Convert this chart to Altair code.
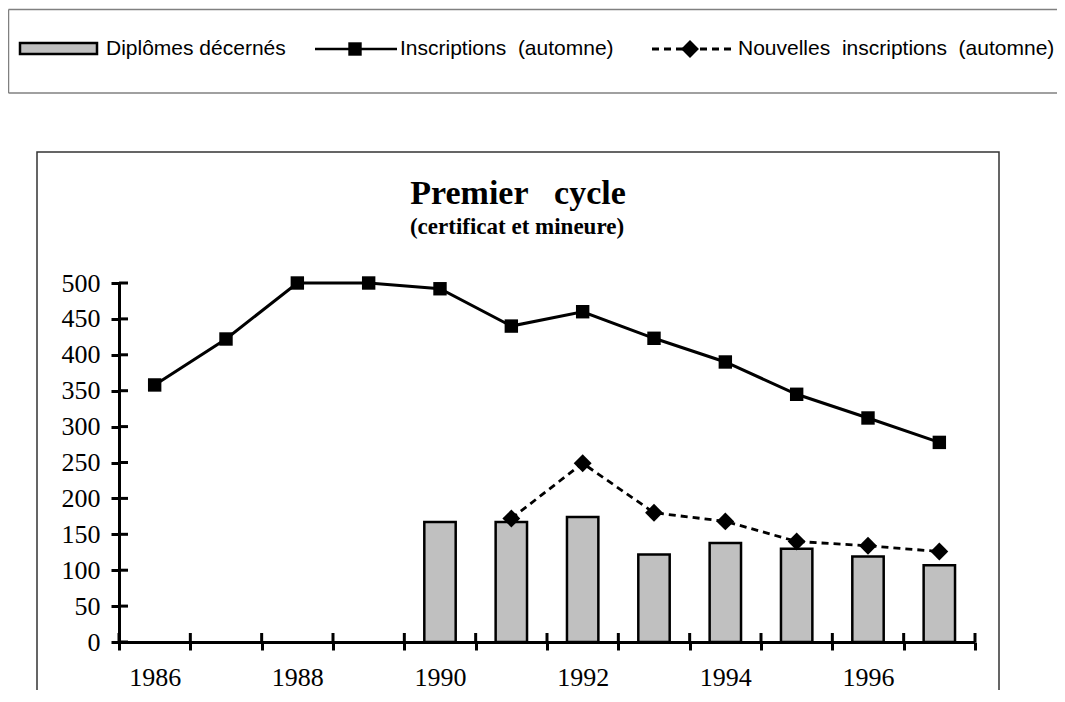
import altair as alt
import pandas as pd

# ---- data ----
years = [str(y) for y in range(1986, 1998)]
inscriptions = [358, 422, 500, 500, 492, 440, 460, 423, 390, 345, 312, 278]
nouvelles = [None, None, None, None, None, 172, 249, 180, 168, 140, 134, 126]
diplomes = [None, None, None, None, 167, 167, 174, 122, 138, 130, 119, 107]
y_ticks = [0, 50, 100, 150, 200, 250, 300, 350, 400, 450, 500]
legend_labels = [
    "Diplômes décernés",
    "Inscriptions\u00a0\u00a0(automne)",
    "Nouvelles\u00a0\u00a0inscriptions\u00a0\u00a0(automne)",
]
title_text = "Premier\u00a0\u00a0\u00a0cycle"
subtitle_text = "(certificat et mineure)"

df = pd.DataFrame({"year": years, "inscriptions": inscriptions,
                   "nouvelles": nouvelles, "diplomes": diplomes})
ticks_df = pd.DataFrame({"v": y_ticks})
last_df = pd.DataFrame({"year": [years[-1]]})

W, H = 856, 359
SERIF = "Liberation Serif"
SANS = "Liberation Sans"

x_scale = alt.Scale(domain=years, paddingInner=0, paddingOuter=0)
y_scale = alt.Scale(domain=[0, 500], nice=False, zero=True)
x_axis = alt.Axis(title=None, labelAngle=0, tickBand="extent", tickSize=8, tickWidth=3,
                  tickColor="black", domainWidth=3, domainColor="black",
                  labelExpr="toNumber(datum.value) % 2 == 0 ? datum.value : ''",
                  labelFont=SERIF, labelFontSize=26, labelColor="black",
                  labelPadding=14, labelOverlap=False, grid=False)
y_axis = alt.Axis(title=None, values=y_ticks, tickSize=8, tickWidth=3, tickColor="black",
                  domainWidth=3, domainColor="black", labelFont=SERIF, labelFontSize=26,
                  labelColor="black", labelPadding=11, grid=False)

X = alt.X("year:O", scale=x_scale, axis=x_axis)

bars = alt.Chart(df).transform_filter("isValid(datum.diplomes)").mark_bar(
    fill="#c0c0c0", stroke="black", strokeWidth=2.5, width={"band": 0.44}
).encode(x=X, y=alt.Y("diplomes:Q", scale=y_scale, axis=y_axis))

line_ins = alt.Chart(df).mark_line(color="black", strokeWidth=3).encode(
    x=X, y=alt.Y("inscriptions:Q", scale=y_scale, axis=y_axis))
pts_ins = alt.Chart(df).mark_point(shape="square", filled=True, size=180, color="black",
                                   opacity=1).encode(
    x=X, y=alt.Y("inscriptions:Q", scale=y_scale, axis=y_axis))

nv = alt.Chart(df).transform_filter("isValid(datum.nouvelles)")
line_nv = nv.mark_line(color="black", strokeWidth=2.8, strokeDash=[7, 5]).encode(
    x=X, y=alt.Y("nouvelles:Q", scale=y_scale, axis=y_axis))
pts_nv = nv.mark_point(shape="diamond", filled=True, size=320, color="black",
                       opacity=1).encode(
    x=X, y=alt.Y("nouvelles:Q", scale=y_scale, axis=y_axis))

# inner halves of the crossing ticks
ytick_in = alt.Chart(ticks_df).mark_rule(color="black", strokeWidth=3).encode(
    y=alt.Y("v:Q", scale=y_scale, axis=y_axis), x=alt.value(0), x2=alt.value(9))
xtick_in = alt.Chart(df).mark_rule(color="black", strokeWidth=3).encode(
    x=alt.X("year:O", scale=x_scale, axis=x_axis, bandPosition=0),
    y=alt.value(H - 9), y2=alt.value(H))
xtick_end = alt.Chart(last_df).mark_rule(color="black", strokeWidth=3).encode(
    x=alt.X("year:O", scale=x_scale, axis=x_axis, bandPosition=1),
    y=alt.value(H - 9), y2=alt.value(H))

one = alt.Data(values=[{"k": 0}])

frame = alt.Chart(one).mark_rect(fill="transparent", stroke="#333333", strokeWidth=1.5).encode(
    x=alt.value(-82), x2=alt.value(880), y=alt.value(-131), y2=alt.value(430))

LB_STYLE = dict(color="#808080", strokeWidth=1.5)
lb_top = alt.Chart(one).mark_rule(**LB_STYLE).encode(
    x=alt.value(-110.5), x2=alt.value(1000), y=alt.value(-273.5))
lb_bot = alt.Chart(one).mark_rule(**LB_STYLE).encode(
    x=alt.value(-110.5), x2=alt.value(1000), y=alt.value(-190))
lb_left = alt.Chart(one).mark_rule(**LB_STYLE).encode(
    x=alt.value(-110.5), y=alt.value(-273.5), y2=alt.value(-190))

title = alt.Chart(one).mark_text(font=SERIF, fontSize=34, fontWeight="bold", align="center",
                                 baseline="alphabetic", color="black").encode(
    x=alt.value(399), y=alt.value(-79), text=alt.value(title_text))
subtitle = alt.Chart(one).mark_text(font=SERIF, fontSize=23, fontWeight="bold", align="center",
                                    baseline="alphabetic", color="black").encode(
    x=alt.value(398), y=alt.value(-49), text=alt.value(subtitle_text))

LY = -234
leg_bar = alt.Chart(one).mark_rect(fill="#c0c0c0", stroke="black", strokeWidth=2.5).encode(
    x=alt.value(-99), x2=alt.value(-22), y=alt.value(LY - 6), y2=alt.value(LY + 5))
leg_line1 = alt.Chart(one).mark_rule(color="black", strokeWidth=2.5).encode(
    x=alt.value(196), x2=alt.value(278), y=alt.value(LY))
leg_sq = alt.Chart(one).mark_point(shape="square", filled=True, size=180, color="black",
                                   opacity=1).encode(x=alt.value(236), y=alt.value(LY))
leg_line2 = alt.Chart(one).mark_rule(color="black", strokeWidth=2.8, strokeDash=[7, 5]).encode(
    x=alt.value(533), x2=alt.value(613), y=alt.value(LY))
leg_dia = alt.Chart(one).mark_point(shape="diamond", filled=True, size=320, color="black",
                                    opacity=1).encode(x=alt.value(571), y=alt.value(LY))
leg_texts = []
for lx, lab in zip([-13, 281, 619], legend_labels):
    leg_texts.append(alt.Chart(one).mark_text(font=SANS, fontSize=21, align="left",
                                              baseline="alphabetic", color="black").encode(
        x=alt.value(lx), y=alt.value(-228), text=alt.value(lab)))

chart = alt.layer(
    frame, lb_top, lb_bot, lb_left, title, subtitle,
    leg_bar, leg_line1, leg_sq, leg_line2, leg_dia, *leg_texts,
    bars, line_nv, line_ins, pts_nv, pts_ins, ytick_in, xtick_in, xtick_end,
).properties(
    width=W, height=H,
    padding={"left": 111, "top": 275, "right": 82, "bottom": 48},
    autosize=alt.AutoSizeParams(type="none"),
    background="white",
).configure_view(stroke=None)

chart.save("out.html", embed_options={"renderer": "svg", "actions": False})
